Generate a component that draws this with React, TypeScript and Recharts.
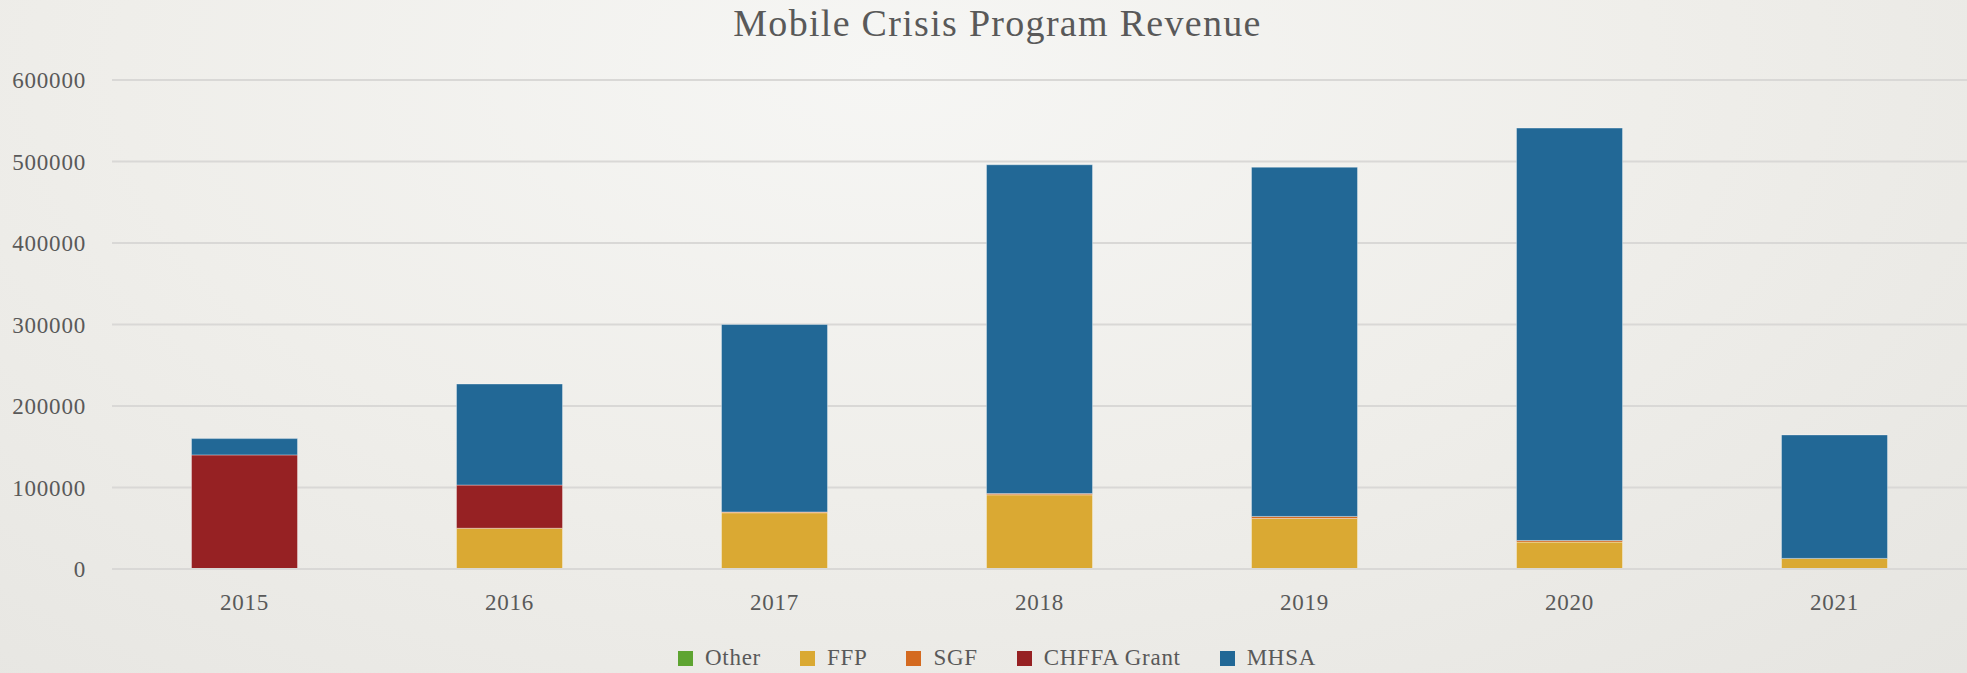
import React from "react";
import { BarChart, Bar, XAxis, YAxis, CartesianGrid, Legend } from "recharts";

const years = ["2015", "2016", "2017", "2018", "2019", "2020", "2021"];
const other = [0, 0, 0, 0, 0, 0, 0];
const ffp = [0, 50000, 69000, 91000, 62000, 33000, 13000];
const sgf = [0, 0, 1000, 1500, 2500, 2000, 0];
const chffa = [140000, 53000, 0, 0, 0, 0, 0];
const mhsa = [20000, 124000, 230000, 403500, 428500, 506000, 151500];
const yTicks = [0, 100000, 200000, 300000, 400000, 500000, 600000];

const seriesNames = ["Other", "FFP", "SGF", "CHFFA Grant", "MHSA"];
const seriesKeys = ["other", "ffp", "sgf", "chffa", "mhsa"];
const seriesColors = ["#5EA431", "#DAA933", "#D46A20", "#962123", "#226896"];

const data = years.map((y, i) => ({
  year: y,
  other: other[i],
  ffp: ffp[i],
  sgf: sgf[i],
  chffa: chffa[i],
  mhsa: mhsa[i],
}));

const FONT = "'Liberation Serif', 'DejaVu Serif', serif";
const TEXT = "#595959";

const renderLegend = () => (
  <div
    style={{
      display: "flex",
      justifyContent: "center",
      alignItems: "center",
      height: 30,
      paddingLeft: 66,
      fontFamily: FONT,
      fontSize: 23,
      letterSpacing: 0.7,
      color: TEXT,
    }}
  >
    {seriesNames.map((n, i) => (
      <div
        key={n}
        style={{ display: "flex", alignItems: "center", marginRight: 39 }}
      >
        <div
          style={{
            width: 15,
            height: 15,
            background: seriesColors[i],
            marginRight: 12,
          }}
        />
        <span>{n}</span>
      </div>
    ))}
  </div>
);

export default function App() {
  return (
    <div
      style={{
        position: "absolute",
        left: 0,
        top: 0,
        width: 1967,
        height: 673,
        background:
          "radial-gradient(ellipse at 45% 10%, #f6f6f4 0%, #efeeea 50%, #e6e5e1 100%)",
        fontFamily: FONT,
        overflow: "hidden",
      }}
    >
      <div
        style={{
          position: "absolute",
          top: 0,
          left: 14,
          width: 1967,
          textAlign: "center",
          fontSize: 38,
          letterSpacing: 1.3,
          color: TEXT,
          lineHeight: "46px",
          fontFamily: FONT,
        }}
      >
        Mobile Crisis Program Revenue
      </div>
      <BarChart
        width={1967}
        height={673}
        data={data}
        margin={{ top: 80, right: 0, bottom: 30, left: 0 }}
        barCategoryGap="30%"
      >
        <CartesianGrid vertical={false} stroke="#d9d8d6" strokeWidth={2} />
        <XAxis
          dataKey="year"
          axisLine={{ stroke: "#d9d8d6", strokeWidth: 2 }}
          tickLine={false}
          tick={{ fill: TEXT, fontSize: 23, fontFamily: FONT, letterSpacing: 0.8 }}
          tickMargin={19}
          height={44}
        />
        <YAxis
          width={112}
          domain={[0, 600000]}
          ticks={yTicks}
          axisLine={false}
          tickLine={false}
          tickSize={0}
          tickMargin={26}
          tick={{ fill: TEXT, fontSize: 23, fontFamily: FONT, letterSpacing: 0.8 }}
        />
        <Legend
          verticalAlign="bottom"
          align="center"
          height={30}
          content={renderLegend}
          wrapperStyle={{ bottom: 0, left: 0, width: 1967 }}
        />
        {seriesKeys.map((k, i) => (
          <Bar
            key={k}
            dataKey={k}
            name={seriesNames[i]}
            stackId="a"
            fill={seriesColors[i]}
            stroke="rgba(255,255,255,0.35)"
            strokeWidth={1}
            isAnimationActive={false}
          />
        ))}
      </BarChart>
    </div>
  );
}
